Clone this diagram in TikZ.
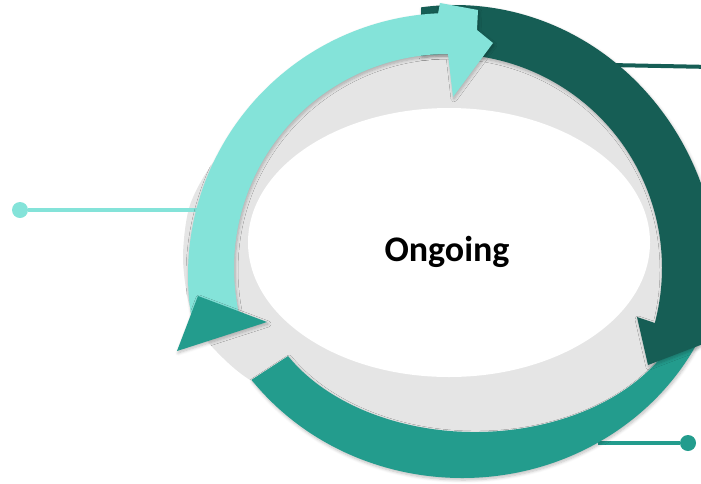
\documentclass[tikz,border=0pt]{standalone}
\usepackage{fontspec}
\setmainfont{Carlito}
\usepackage{xcolor}
\usepackage{tikz}
\usetikzlibrary{calc,shadows.blur}

\definecolor{tealLight}{RGB}{132,227,217}
\definecolor{tealDark}{RGB}{22,94,85}
\definecolor{tealMid}{RGB}{35,156,141}
\definecolor{ringGrey}{RGB}{229,229,229}

\tikzset{
  band/.style={blur shadow={shadow xshift=1pt,shadow yshift=-2pt,
      shadow blur steps=6,shadow blur radius=3pt,shadow opacity=25}},
  dot/.style={circle,fill=#1,inner sep=0pt,minimum size=16pt},
  leader/.style={line width=4pt,#1},
}

\begin{document}
\begin{tikzpicture}[x=1pt,y=-1pt]
	\useasboundingbox (0,0) rectangle (701,483);
	\clip (0,0) rectangle (701,483);
	% grey ring behind the arrows
	\fill[ringGrey] plot[smooth cycle] coordinates {(183,255) (190,205) (215,160) (260,115) (330,70) (447,45) (560,65)
		(650,120) (705,220) (712,300) (690,345) (655,385) (560,445) (447,452) (330,425) (250,380) (217,352) (200,330) (188,300)};
	\fill[white] (449,242.5) ellipse [x radius=201pt, y radius=134.5pt];
	% leader lines
	\node[dot=tealLight] (dotL) at (20,210) {};
	\coordinate (endL) at (205,210);
	\draw[leader=tealLight] (dotL) -- (endL);
	\coordinate (startR) at (610,65);
	\coordinate (endR) at (712,67);
	\draw[leader=tealDark] (startR) -- (endR);
	\node[dot=tealMid] (dotB) at (688,443) {};
	\coordinate (startB) at (598,443);
	\draw[leader=tealMid] (startB) -- (dotB);
	% bottom arrow body
	\fill[tealMid,band]
		($(462,228)+(217.4:265pt and 250pt)$) arc[start angle=217.4, end angle=338, x radius=265pt, y radius=250pt]
		-- ($(475,282)+(332:215pt and 150pt)$) arc[start angle=332, end angle=209.6, x radius=215pt, y radius=150pt]
		-- cycle;
	% right arrow
	\fill[tealDark,band]
		($(455,285)+(97.4:264pt and 280pt)$) arc[start angle=97.4, end angle=-9.3, x radius=264pt, y radius=280pt]
		-- (724,336) -- (648,365) -- (637,317)
		-- ($(448,268)+(-14.9:214pt)$) arc[start angle=-14.9, end angle=97.2, radius=214pt]
		-- cycle;
	% left arrow
	\fill[tealLight,band]
		($(450,275)+(190.3:262pt)$) arc[start angle=190.3, end angle=92.6, radius=262pt]
		-- (440,3) -- (478,10) -- (477,30) -- (493,43) -- (453,97)
		-- ($(448,268)+(90:214pt)$) arc[start angle=90, end angle=194.6, radius=214pt]
		-- cycle;
	% head of the bottom arrow
	\fill[tealMid,band] (198,296) -- (177,351) -- (267,322) -- cycle;
	\node[font=\bfseries\fontsize{36}{40}\selectfont] (ongoing) at (447,252) {Ongoing};
\end{tikzpicture}
\end{document}
